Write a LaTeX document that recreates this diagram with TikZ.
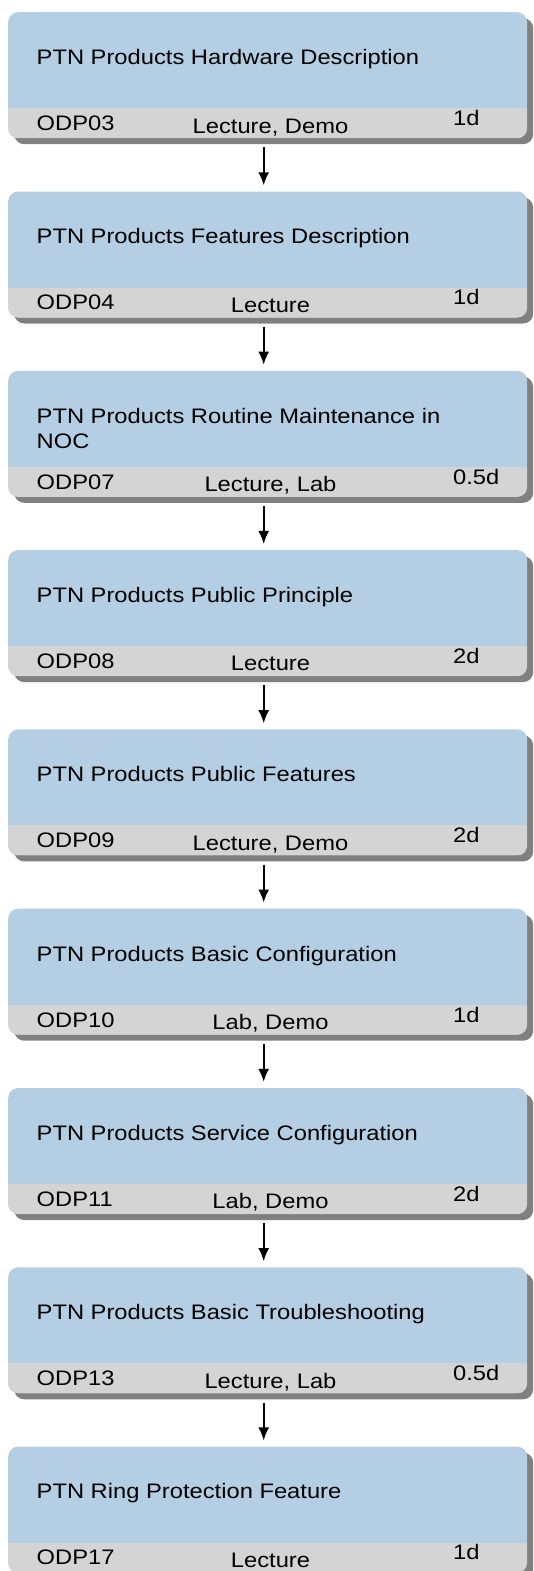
\documentclass[tikz,border=0pt]{standalone}
\usepackage{fontspec}
\setmainfont{Liberation Sans}[FakeStretch=1.13]
\usetikzlibrary{shadows,arrows.meta}

\definecolor{cardblue}{RGB}{180,206,227}
\definecolor{cardband}{RGB}{212,212,212}
\definecolor{cardshadow}{RGB}{128,128,128}

\tikzset{
  card/.style={
    anchor=north west, minimum width=519pt, minimum height=126pt,
    inner sep=0pt, rounded corners=10pt, fill=cardblue,
    drop shadow={shadow xshift=6pt, shadow yshift=-6pt,
                 fill=cardshadow, opacity=1},
    path picture={
      \fill[cardband, sharp corners]
        ([yshift=30pt]path picture bounding box.south west)
        rectangle (path picture bounding box.south east);
    }},
  cardtext/.style={inner sep=0pt, font=\fontsize{21}{25.6}\selectfont},
  titletext/.style={cardtext, anchor=base west},
  codetext/.style={cardtext, anchor=base west},
  modetext/.style={cardtext, anchor=base},
  daystext/.style={cardtext, anchor=base west},
  flowarrow/.style={line width=1.8pt, -{Latex[length=13pt,width=11pt]}}
}

% a title set on two lines, with its baseline on the first one
\newcommand\twolinetitle[2]{\vtop{\hbox{#1}\hbox{#2}}}

% #1 name, #2 top edge (pt), #3 title, #4 code, #5 mode, #6 duration
\newcommand\coursecard[6]{%
  \node[card] (#1) at (8pt,-#2pt) {};
  \node[titletext] (#1-title) at ([xshift=28.5pt,yshift=-52.5pt]#1.north west) {#3};
  \node[codetext]  (#1-code)  at ([xshift=28.5pt,yshift=-118.5pt]#1.north west) {#4};
  \node[modetext]  (#1-mode)  at ([xshift=262.5pt,yshift=-121pt]#1.north west) {#5};
  \node[daystext]  (#1-days)  at ([xshift=445pt,yshift=-113.5pt]#1.north west) {#6};
}

\begin{document}
\begin{tikzpicture}
  \useasboundingbox (0,0) rectangle (534pt,-1571pt);

  \coursecard{c1}{12}{PTN Products Hardware Description}{ODP03}{Lecture, Demo}{1d}
  \coursecard{c2}{191.3}{PTN Products Features Description}{ODP04}{Lecture}{1d}
  \coursecard{c3}{370.6}{\twolinetitle{PTN Products Routine Maintenance in}{NOC}}{ODP07}{Lecture, Lab}{0.5d}
  \coursecard{c4}{549.9}{PTN Products Public Principle}{ODP08}{Lecture}{2d}
  \coursecard{c5}{729.2}{PTN Products Public Features}{ODP09}{Lecture, Demo}{2d}
  \coursecard{c6}{908.5}{PTN Products Basic Configuration}{ODP10}{Lab, Demo}{1d}
  \coursecard{c7}{1087.8}{PTN Products Service Configuration}{ODP11}{Lab, Demo}{2d}
  \coursecard{c8}{1267.1}{PTN Products Basic Troubleshooting}{ODP13}{Lecture, Lab}{0.5d}
  \coursecard{c9}{1446.4}{PTN Ring Protection Feature}{ODP17}{Lecture}{1d}

  \foreach \a/\b in {c1/c2,c2/c3,c3/c4,c4/c5,c5/c6,c6/c7,c7/c8,c8/c9}
    \draw[flowarrow] ([xshift=-4pt,yshift=-9pt]\a.south) -- ([xshift=-4pt,yshift=6pt]\b.north);
\end{tikzpicture}
\end{document}
